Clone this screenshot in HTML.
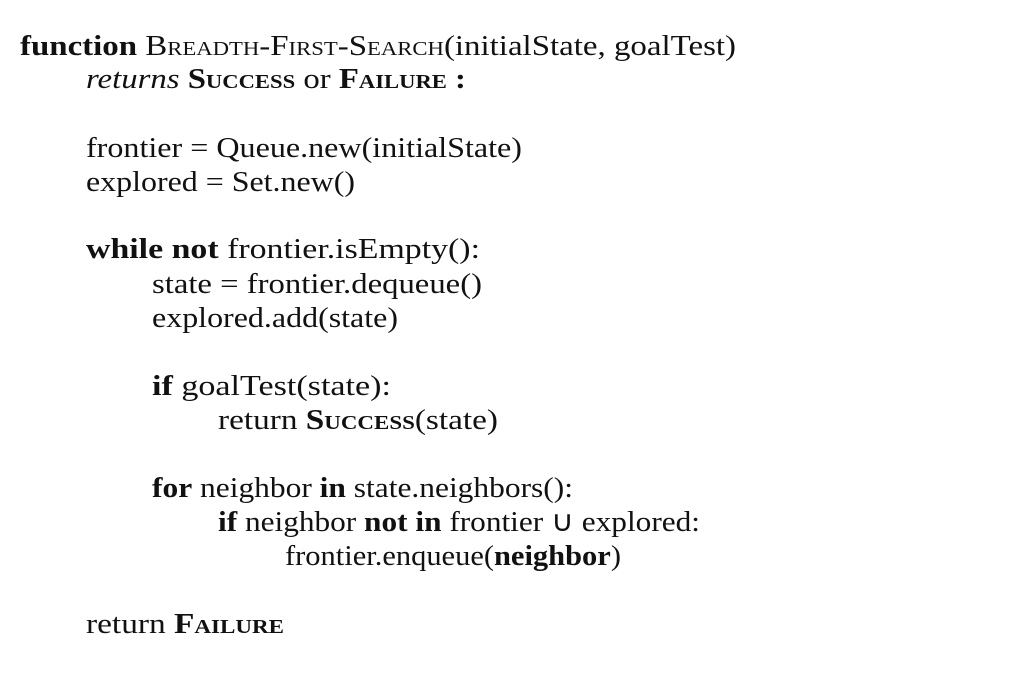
<!DOCTYPE html>
<html><head><meta charset="utf-8"><style>
html,body{margin:0;padding:0;background:#fff;}
svg{display:block;}
text{font-family:"Liberation Serif",serif;font-size:29px;fill:#111;}
.b{font-weight:bold;}
.sc{font-variant:small-caps;}
</style></head><body>
<svg width="1011" height="685">
<rect width="1011" height="685" fill="#fff"/>
<text x="20" y="55" textLength="716" lengthAdjust="spacingAndGlyphs"><tspan class="b">function</tspan> <tspan class="sc">Breadth-First-Search</tspan>(initialState, goalTest)</text>
<text x="86" y="88" textLength="380" lengthAdjust="spacingAndGlyphs"><tspan font-style="italic">returns</tspan> <tspan class="b sc">Success</tspan> or <tspan class="b sc">Failure</tspan> <tspan class="b">:</tspan></text>
<text x="86" y="157" textLength="436" lengthAdjust="spacingAndGlyphs">frontier = Queue.new(initialState)</text>
<text x="86" y="191" textLength="269" lengthAdjust="spacingAndGlyphs">explored = Set.new()</text>
<text x="86" y="258" textLength="394" lengthAdjust="spacingAndGlyphs"><tspan class="b">while not</tspan> frontier.isEmpty():</text>
<text x="152" y="293" textLength="330" lengthAdjust="spacingAndGlyphs">state = frontier.dequeue()</text>
<text x="152" y="327" textLength="246" lengthAdjust="spacingAndGlyphs">explored.add(state)</text>
<text x="152" y="395" textLength="239" lengthAdjust="spacingAndGlyphs"><tspan class="b">if</tspan> goalTest(state):</text>
<text x="218" y="429" textLength="280" lengthAdjust="spacingAndGlyphs">return <tspan class="b sc">Success</tspan>(state)</text>
<text x="152" y="497" textLength="421" lengthAdjust="spacingAndGlyphs"><tspan class="b">for</tspan> neighbor <tspan class="b">in</tspan> state.neighbors():</text>
<text x="218" y="531" textLength="482" lengthAdjust="spacingAndGlyphs"><tspan class="b">if</tspan> neighbor <tspan class="b">not in</tspan> frontier ∪ explored:</text>
<text x="285" y="565" textLength="336" lengthAdjust="spacingAndGlyphs">frontier.enqueue(<tspan class="b">neighbor</tspan>)</text>
<text x="86" y="633" textLength="198" lengthAdjust="spacingAndGlyphs">return <tspan class="b sc">Failure</tspan></text>
</svg>
</body></html>
